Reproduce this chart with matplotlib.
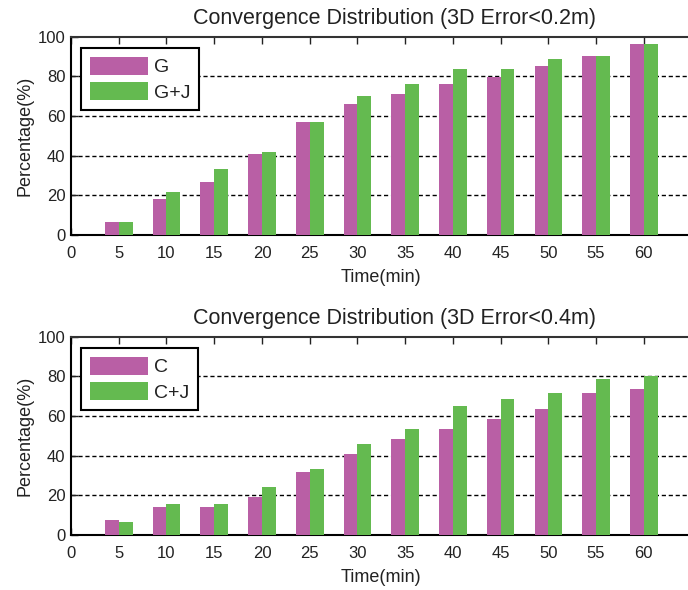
import matplotlib
matplotlib.use("Agg")
import matplotlib.pyplot as plt
import numpy as np

plt.rcParams['font.family'] = ['Liberation Sans', 'DejaVu Sans']

times = [5, 10, 15, 20, 25, 30, 35, 40, 45, 50, 55, 60]
g_vals = [6.4, 18.0, 26.6, 40.7, 56.9, 66.0, 71.0, 76.1, 79.8, 85.2, 90.3, 96.3]
gj_vals = [6.4, 21.5, 33.2, 41.7, 56.9, 70.0, 76.1, 83.7, 83.7, 88.7, 90.3, 96.3]
c_vals = [7.4, 13.8, 13.8, 18.9, 31.6, 40.7, 48.2, 53.3, 58.3, 63.4, 71.4, 73.4]
cj_vals = [6.4, 15.4, 15.4, 23.9, 33.2, 45.7, 53.3, 64.9, 68.4, 71.4, 78.5, 80.0]

titles = ["Convergence Distribution (3D Error<0.2m)", "Convergence Distribution (3D Error<0.4m)"]
labels = [("G", "G+J"), ("C", "C+J")]
xticks = [0, 5, 10, 15, 20, 25, 30, 35, 40, 45, 50, 55, 60]
yticks = [0, 20, 40, 60, 80, 100]

c1 = "#B95FA5"
c2 = "#64BA50"

fig = plt.figure(figsize=(6.88, 5.90), dpi=100)
positions = [[0.1032, 0.6022, 0.902, 0.3356], [0.1032, 0.0937, 0.902, 0.3356]]
data = [(g_vals, gj_vals), (c_vals, cj_vals)]
w = 1.45
for pos, (a, b), title, (la, lb) in zip(positions, data, titles, labels):
    ax = fig.add_axes(pos)
    x = np.array(times)
    ax.bar(x - w / 2, a, width=w, color=c1, label=la, zorder=3)
    ax.bar(x + w / 2, b, width=w, color=c2, label=lb, zorder=3)
    ax.set_xlim(0, 65)
    ax.set_ylim(0, 100)
    ax.set_xticks(xticks)
    ax.set_yticks(yticks)
    ax.tick_params(direction='in', top=True, right=False, labelsize=12, length=5, width=1,
                   colors='#222222')
    ax.tick_params(axis='x', pad=8)
    ax.tick_params(axis='y', pad=4)
    for yv in [20, 40, 60, 80]:
        ax.axhline(yv, color='black', linestyle=(0, (3, 2)), linewidth=1, zorder=1)
    for s in ['left', 'bottom', 'top']:
        ax.spines[s].set_linewidth(1.5)
    ax.spines['top'].set_color('#333333')
    ax.set_title(title, fontsize=15.5, pad=9, color='#222222', x=0.522)
    ax.set_xlabel("Time(min)", fontsize=13, labelpad=6, color='#222222')
    ax.set_ylabel("Percentage(%)", fontsize=13, labelpad=3, color='#222222')
    leg = ax.legend(loc='upper left', bbox_to_anchor=(0.016, 0.944), borderaxespad=0,
                    fontsize=14, handlelength=3.0, handleheight=1.05, fancybox=False,
                    edgecolor='black', framealpha=1, borderpad=0.45, labelspacing=0.3,
                    handletextpad=0.3)
    leg.get_frame().set_linewidth(1.5)
    for t in leg.get_texts():
        t.set_color('#222222')

fig.savefig("out.png", dpi=100)
